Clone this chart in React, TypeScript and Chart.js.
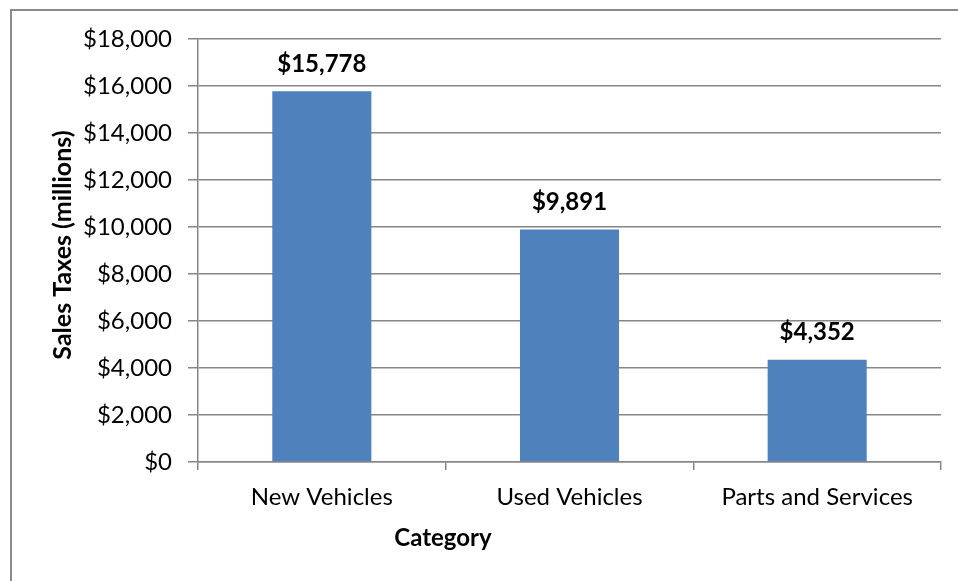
import React, { useEffect, useRef } from "react";
import { Chart, registerables } from "chart.js";

Chart.register(...registerables);

const categories = ["New Vehicles", "Used Vehicles", "Parts and Services"];
const salesTaxes = [15778, 9891, 4352];
const yTitle = "Sales Taxes (millions)";
const xTitle = "Category";
const yMin = 0;
const yMax = 18000;
const yStep = 2000;

const FONT = "Lato, 'Liberation Sans', sans-serif";

const fmt = (v: number) => "$" + Number(v).toLocaleString("en-US");

const decorPlugin = {
  id: "decor",
  beforeDraw(chart: any) {
    const ctx = chart.ctx;
    ctx.save();
    ctx.fillStyle = "#ffffff";
    ctx.fillRect(0, 0, chart.width, chart.height);
    ctx.strokeStyle = "#8a8a8a";
    ctx.lineWidth = 2;
    ctx.beginPath();
    ctx.moveTo(11, chart.height);
    ctx.lineTo(11, 10);
    ctx.lineTo(chart.width, 10);
    ctx.stroke();
    ctx.restore();
  },
  afterDraw(chart: any) {
    const ctx = chart.ctx;
    ctx.save();
    ctx.fillStyle = "#000000";
    ctx.font = `bold 24px ${FONT}`;
    ctx.textAlign = "center";
    ctx.textBaseline = "middle";
    // data labels
    const meta = chart.getDatasetMeta(0);
    meta.data.forEach((bar: any, i: number) => {
      ctx.fillText(fmt(chart.data.datasets[0].data[i]), bar.x, bar.y - 27);
    });
    // x axis title
    ctx.fillText(xTitle, 443, 538);
    // y axis title
    ctx.font = `bold 25px ${FONT}`;
    ctx.translate(63, 245);
    ctx.rotate(-Math.PI / 2);
    ctx.fillText(yTitle, 0, 0);
    ctx.restore();
  },
};

export default function App() {
  const ref = useRef<HTMLCanvasElement>(null);
  useEffect(() => {
    if (!ref.current) return;
    const chart = new Chart(ref.current, {
      type: "bar",
      data: {
        labels: categories,
        datasets: [
          {
            data: salesTaxes,
            backgroundColor: "#4F81BD",
            categoryPercentage: 1,
            barPercentage: 0.4,
          },
        ],
      },
      options: {
        animation: false,
        responsive: false,
        layout: { padding: { top: 39, right: 17, left: 0, bottom: 0 } },
        plugins: {
          legend: { display: false },
          tooltip: { enabled: false },
        },
        scales: {
          x: {
            grid: {
              drawOnChartArea: false,
              drawTicks: true,
              tickLength: 8,
              color: "#868686",
              lineWidth: 1.5,
            },
            border: { color: "#868686", width: 1.5 },
            ticks: {
              color: "#000000",
              font: { family: FONT, size: 24 },
              padding: 13,
              maxRotation: 0,
            },
            afterFit(scale: any) {
              scale.height = 119;
            },
          },
          y: {
            min: yMin,
            max: yMax,
            grid: {
              color: "#868686",
              lineWidth: 1.5,
              tickLength: 10,
            },
            border: { color: "#868686", width: 1.5 },
            ticks: {
              stepSize: yStep,
              color: "#000000",
              font: { family: FONT, size: 24 },
              padding: 16,
              callback: (v: any) => fmt(v),
            },
            afterFit(scale: any) {
              scale.width = 198;
            },
          },
        },
      },
      plugins: [decorPlugin],
    });
    return () => chart.destroy();
  }, []);
  return (
    <div style={{ position: "absolute", left: 0, top: 0, width: 958, height: 581 }}>
      <canvas ref={ref} width={958} height={581} />
    </div>
  );
}
